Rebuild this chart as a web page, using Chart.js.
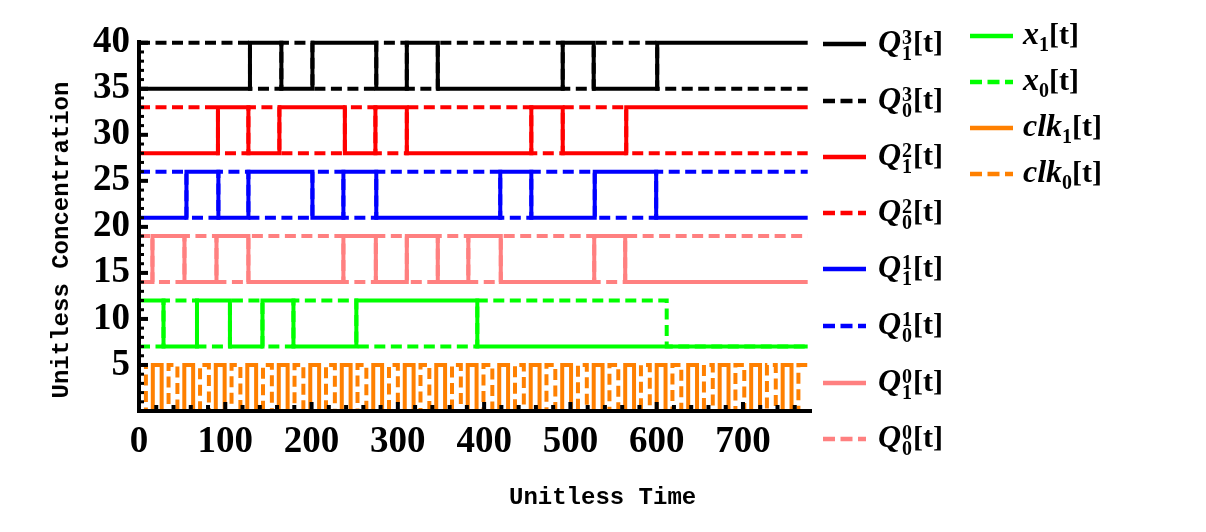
<!DOCTYPE html>
<html><head><meta charset="utf-8">
<script src="https://cdn.jsdelivr.net/npm/chart.js@4.4.1/dist/chart.umd.min.js"></script>
<style>
html,body{margin:0;padding:0;background:#fff;}
#wrap{position:relative;width:1206px;height:532px;overflow:hidden;background:#fff;}
#c{position:absolute;left:0;top:0;}
.lt{position:absolute;font-family:"Liberation Serif","Times New Roman",serif;font-weight:bold;font-size:30px;line-height:32px;color:#000;white-space:nowrap;}
.lt i{font-style:italic;font-size:32px;}
.ss{display:inline-flex;flex-direction:column;font-size:20px;line-height:16px;vertical-align:8px;margin-left:1px;margin-right:1px;}
.lt sub{font-size:20px;vertical-align:-7px;line-height:0;}
.ls{position:absolute;}
.ax{position:absolute;font-family:"Liberation Mono","Courier New",monospace;font-weight:bold;font-size:24px;color:#000;white-space:nowrap;line-height:28px;}
</style>
</head><body>
<div id="wrap">
<canvas id="c" width="1206" height="532"></canvas>
<div class="ax" id="xt" style="left:509px;top:484px;">Unitless Time</div>
<div class="ax" id="yt" style="left:-98px;top:226px;transform:rotate(-90deg);transform-origin:center center;width:320px;text-align:center;">Unitless Concentration</div>
</div>
<script>
// ---------------- data ----------------
const xMin = 0, xMax = 780, yMin = 0, yMax = 40.3;
const xTickValues = [0, 100, 200, 300, 400, 500, 600, 700];
const xMinorTicks = [20,40,60,80,120,140,160,180,220,240,260,280,320,340,360,380,420,440,460,480,520,540,560,580,620,640,660,680,720,740,760];
const yTickValues = [5, 10, 15, 20, 25, 30, 35, 40];
const yMinorTicks = [1,2,3,4,6,7,8,9,11,12,13,14,16,17,18,19,21,22,23,24,26,27,28,29,31,32,33,34,36,37,38,39];

const q13Times = [0, 128.6, 165, 201, 275, 310.4, 346.3, 491.1, 527, 600.6, 775];
const q13Vals  = [35, 40, 35, 40, 35, 40, 35, 40, 35, 40, 40];
const q03Vals  = [40, 35, 40, 35, 40, 35, 40, 35, 40, 35, 35];

const q12Times = [0, 91.5, 126.8, 162.7, 238.6, 274, 310.4, 454.7, 491.1, 564.7, 775];
const q12Vals  = [28, 33, 28, 33, 28, 33, 28, 33, 28, 33, 33];
const q02Vals  = [33, 28, 33, 28, 33, 28, 33, 28, 33, 28, 28];

const q11Times = [0, 55, 92, 126.8, 201, 236.9, 275, 418.7, 454.7, 528.2, 599.4, 775];
const q11Vals  = [21, 26, 21, 26, 21, 26, 21, 26, 21, 26, 21, 21];
const q01Vals  = [26, 21, 26, 21, 26, 21, 26, 21, 26, 21, 26, 26];

const q10Times = [0, 15.6, 52.7, 89.8, 126.8, 236.9, 274.5, 310.4, 346.3, 381.7, 419.3, 527.6, 563.5, 775];
const q10Vals  = [14, 19, 14, 19, 14, 19, 14, 19, 14, 19, 14, 19, 14, 14];
const q00Vals  = [19, 14, 19, 14, 19, 14, 19, 14, 19, 14, 19, 14, 19, 19];

const x1Times = [0, 28.4, 67.2, 105.4, 143.1, 179, 251.9, 392.1, 611.6, 775];
const x1Vals  = [12, 7, 12, 7, 12, 7, 12, 7, 7, 7];
const x0Vals  = [7, 12, 7, 12, 7, 12, 7, 12, 7, 7];

const clk1Times = [0, 16, 26.25, 52.5, 62.75, 89, 99.25, 125.5, 135.75, 162, 172.25, 198.5, 208.75, 235, 245.25, 271.5, 281.75, 308, 318.25, 344.5, 354.75, 381, 391.25, 417.5, 427.75, 454, 464.25, 490.5, 500.75, 527, 537.25, 563.5, 573.75, 600, 610.25, 636.5, 646.75, 673, 683.25, 709.5, 719.75, 746, 756.25, 775];
const clk1Vals  = [0, 5, 0, 5, 0, 5, 0, 5, 0, 5, 0, 5, 0, 5, 0, 5, 0, 5, 0, 5, 0, 5, 0, 5, 0, 5, 0, 5, 0, 5, 0, 5, 0, 5, 0, 5, 0, 5, 0, 5, 0, 5, 0, 0];
const clk0Times = [0, 8, 34.25, 44.5, 70.75, 81, 107.25, 117.5, 143.75, 154, 180.25, 190.5, 216.75, 227, 253.25, 263.5, 289.75, 300, 326.25, 336.5, 362.75, 373, 399.25, 409.5, 435.75, 446, 472.25, 482.5, 508.75, 519, 545.25, 555.5, 581.75, 592, 618.25, 628.5, 654.75, 665, 691.25, 701.5, 727.75, 738, 764.25, 775];
const clk0Vals  = [5, 0, 5, 0, 5, 0, 5, 0, 5, 0, 5, 0, 5, 0, 5, 0, 5, 0, 5, 0, 5, 0, 5, 0, 5, 0, 5, 0, 5, 0, 5, 0, 5, 0, 5, 0, 5, 0, 5, 0, 5, 0, 5, 5];

const seriesNames = ["Q13","Q03","Q12","Q02","Q11","Q01","Q10","Q00","x1","x0","clk1","clk0"];
const seriesColors = ["#000000","#000000","#ff0000","#ff0000","#0000ff","#0000ff","#ff8080","#ff8080","#00ff00","#00ff00","#ff8000","#ff8000"];
// ----------------------------------------------------------------

const DASH = [11, 5.5];
function pts(t, v){ return t.map((x,i)=>({x:x, y:v[i]})); }
const seriesData = [
  pts(q13Times,q13Vals), pts(q13Times,q03Vals),
  pts(q12Times,q12Vals), pts(q12Times,q02Vals),
  pts(q11Times,q11Vals), pts(q11Times,q01Vals),
  pts(q10Times,q10Vals), pts(q10Times,q00Vals),
  pts(x1Times,x1Vals), pts(x1Times,x0Vals),
  pts(clk1Times,clk1Vals), pts(clk0Times,clk0Vals)
];
const datasets = seriesData.map((d,i)=>({
  label: seriesNames[i],
  data: d,
  borderColor: seriesColors[i],
  backgroundColor: seriesColors[i],
  borderWidth: 4,
  borderDash: (i%2===1) ? DASH : [],
  borderCapStyle: 'butt',
  borderJoinStyle: 'miter',
  pointRadius: 0,
  stepped: true,
  fill: false,
  order: -i
}));

const frame = {
  id: 'frame',
  afterDatasetsDraw(chart){
    const ctx = chart.ctx, xs = chart.scales.x, ys = chart.scales.y, a = chart.chartArea;
    ctx.save();
    ctx.fillStyle = '#000';
    const x0 = a.left, yb = a.bottom;
    ctx.fillRect(x0-2, a.top, 4, yb - a.top + 2);
    ctx.fillRect(x0-2, yb-2, a.right - x0 + 2, 4);
    xTickValues.forEach(v=>{ const p = xs.getPixelForValue(v); ctx.fillRect(p-2, yb-9, 4, 9); });
    xMinorTicks.forEach(v=>{ const p = xs.getPixelForValue(v); ctx.fillRect(p-2, yb-6, 4, 6); });
    yTickValues.forEach(v=>{ const p = ys.getPixelForValue(v); ctx.fillRect(x0, p-2, 9, 4); });
    yMinorTicks.forEach(v=>{ const p = ys.getPixelForValue(v); ctx.fillRect(x0, p-1.5, 5, 3); });
    ctx.restore();
  }
};

new Chart(document.getElementById('c'), {
  type: 'line',
  data: { datasets },
  options: {
    responsive: false,
    animation: false,
    devicePixelRatio: 1,
    layout: { padding: { left: 0, right: 394, top: 40, bottom: 0 } },
    plugins: { legend: { display: false }, tooltip: { enabled: false } },
    scales: {
      x: {
        type: 'linear', min: xMin, max: xMax,
        grid: { display: false, drawTicks: false },
        border: { display: false },
        afterBuildTicks: s => { s.ticks = xTickValues.map(v=>({value:v})); },
        afterFit: s => { s.height = 121; },
        ticks: { color: '#000', padding: 9, maxRotation: 0, autoSkip: false,
          font: { family: '"Liberation Serif", "Times New Roman", serif', weight: 'bold', size: 37 } }
      },
      y: {
        type: 'linear', min: yMin, max: yMax,
        grid: { display: false, drawTicks: false },
        border: { display: false },
        afterBuildTicks: s => { s.ticks = yTickValues.map(v=>({value:v})); },
        afterFit: s => { s.width = 139; },
        ticks: { color: '#000', padding: 9, autoSkip: false,
          font: { family: '"Liberation Serif", "Times New Roman", serif', weight: 'bold', size: 37 } }
      }
    }
  },
  plugins: [frame]
});

// ---------------- legend (HTML) ----------------
const legendItems = [
  {col:0, y:44,    c:"#000000", d:false, html:'<i>Q</i><span class="ss"><span>3</span><span>1</span></span>[t]'},
  {col:0, y:100.7, c:"#000000", d:true,  html:'<i>Q</i><span class="ss"><span>3</span><span>0</span></span>[t]'},
  {col:0, y:156.7, c:"#ff0000", d:false, html:'<i>Q</i><span class="ss"><span>2</span><span>1</span></span>[t]'},
  {col:0, y:213.3, c:"#ff0000", d:true,  html:'<i>Q</i><span class="ss"><span>2</span><span>0</span></span>[t]'},
  {col:0, y:269.3, c:"#0000ff", d:false, html:'<i>Q</i><span class="ss"><span>1</span><span>1</span></span>[t]'},
  {col:0, y:326,   c:"#0000ff", d:true,  html:'<i>Q</i><span class="ss"><span>1</span><span>0</span></span>[t]'},
  {col:0, y:382.7, c:"#ff8080", d:false, html:'<i>Q</i><span class="ss"><span>0</span><span>1</span></span>[t]'},
  {col:0, y:439.3, c:"#ff8080", d:true,  html:'<i>Q</i><span class="ss"><span>0</span><span>0</span></span>[t]'},
  {col:1, y:36,    c:"#00ff00", d:false, html:'<i>x</i><sub>1</sub>[t]'},
  {col:1, y:81.7,  c:"#00ff00", d:true,  html:'<i>x</i><sub>0</sub>[t]'},
  {col:1, y:128.3, c:"#ff8000", d:false, html:'<i>clk</i><sub>1</sub>[t]'},
  {col:1, y:174,   c:"#ff8000", d:true,  html:'<i>clk</i><sub>0</sub>[t]'}
];
const wrap = document.getElementById('wrap');
legendItems.forEach(it=>{
  const lx = it.col===0 ? 823 : 970, tx = it.col===0 ? 878 : 1023;
  const svg = document.createElementNS('http://www.w3.org/2000/svg','svg');
  svg.setAttribute('class','ls'); svg.setAttribute('width','43'); svg.setAttribute('height','10');
  svg.style.left = lx+'px'; svg.style.top = (it.y-5)+'px';
  const ln = document.createElementNS('http://www.w3.org/2000/svg','line');
  ln.setAttribute('x1','0'); ln.setAttribute('x2','43'); ln.setAttribute('y1','5'); ln.setAttribute('y2','5');
  ln.setAttribute('stroke', it.c); ln.setAttribute('stroke-width','4.5');
  if (it.d) ln.setAttribute('stroke-dasharray','12 5.5');
  svg.appendChild(ln); wrap.appendChild(svg);
  const t = document.createElement('div');
  t.className = 'lt'; t.innerHTML = it.html;
  t.style.left = tx+'px'; t.style.top = (it.y-19)+'px';
  wrap.appendChild(t);
});
</script>
</body></html>
